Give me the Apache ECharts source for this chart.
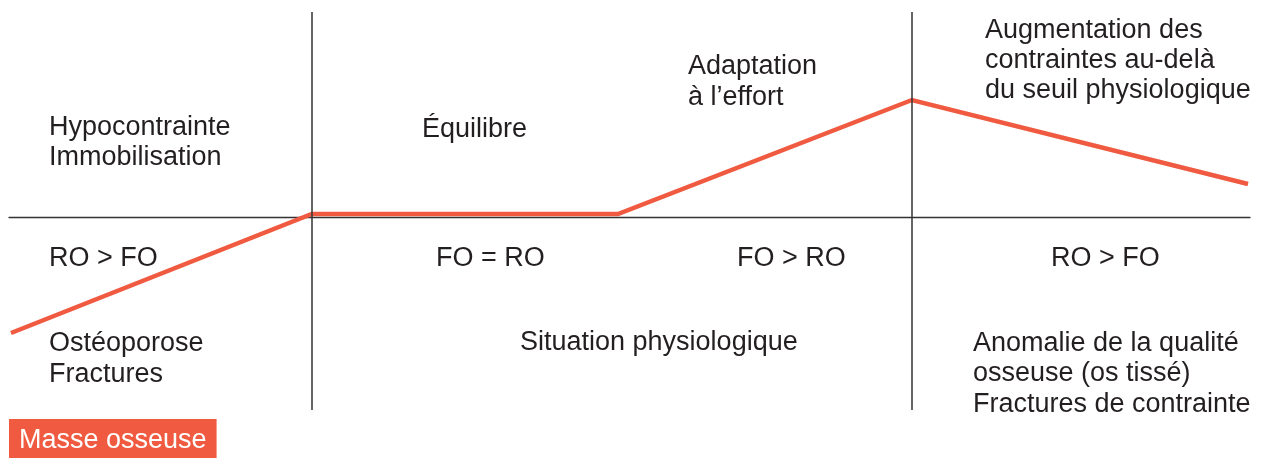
<!DOCTYPE html>
<html>
<head>
<meta charset="utf-8">
<style>
  html, body { margin: 0; padding: 0; background: #fff; }
  #chart { width: 1264px; height: 459px; }
</style>
<script src="https://cdn.jsdelivr.net/npm/echarts@6/dist/echarts.min.js"></script>
</head>
<body>
<div id="chart"></div>
<script>
// bone mass curve, x in % of the stimulus axis, y relative to the baseline
const massX = [0.16, 24.4, 49.07, 72.76, 99.84]
const massY = [-1.16, 0.03, 0.03, 1.17, 0.33]
// vertical separators between the zones
const zoneBounds = [24.4, 72.76]

const textColor = '#231f20'
const red = '#f05a40'
const font = 'Liberation Sans'

function label(text, left, top, lh) {
  return {
    type: 'text',
    left: left,
    top: top,
    style: {
      text: text,
      fill: textColor,
      fontFamily: font,
      fontSize: 27,
      lineHeight: lh || 30
    }
  }
}

const myChart = echarts.init(document.getElementById('chart'))
myChart.setOption({
  animation: false,
  title: {
    text: 'Masse osseuse',
    left: 9,
    top: 419,
    padding: [8, 10, 4, 10],
    backgroundColor: red,
    textStyle: { color: '#fff', fontWeight: 'normal', fontSize: 27, lineHeight: 27, fontFamily: font }
  },
  grid: { left: 9, right: 14, top: 12, bottom: 49 },
  xAxis: {
    type: 'value',
    min: 0,
    max: 100,
    axisLine: { onZero: true, lineStyle: { color: '#333', width: 1.3 } },
    axisTick: { show: false },
    axisLabel: { show: false },
    splitLine: { show: false }
  },
  yAxis: {
    type: 'value',
    min: -1.93,
    max: 2.05,
    show: false,
    splitLine: { show: false }
  },
  series: [{
    type: 'line',
    data: massX.map((x, i) => [x, massY[i]]),
    symbol: 'none',
    lineStyle: { color: red, width: 4.5, join: 'miter' },
    z: 3,
    markLine: {
      silent: true,
      symbol: 'none',
      label: { show: false },
      lineStyle: { color: '#333', width: 1.5, type: 'solid' },
      data: zoneBounds.map(x => ({ xAxis: x }))
    }
  }],
  graphic: [
    label('Hypocontrainte\nImmobilisation', 49, 113),
    label('Équilibre', 422, 115),
    label('Adaptation\nà l’effort', 688, 51, 31),
    label('Augmentation des\ncontraintes au-delà\ndu seuil physiologique', 985, 16),
    label('RO > FO', 49, 244),
    label('FO = RO', 436, 244),
    label('FO > RO', 737, 244),
    label('RO > FO', 1051, 244),
    label('Ostéoporose\nFractures', 49, 328, 31),
    label('Situation physiologique', 520, 328),
    label('Anomalie de la qualité\nosseuse (os tissé)\nFractures de contrainte', 973, 328, 30.5)
  ]
})
</script>
</body>
</html>
